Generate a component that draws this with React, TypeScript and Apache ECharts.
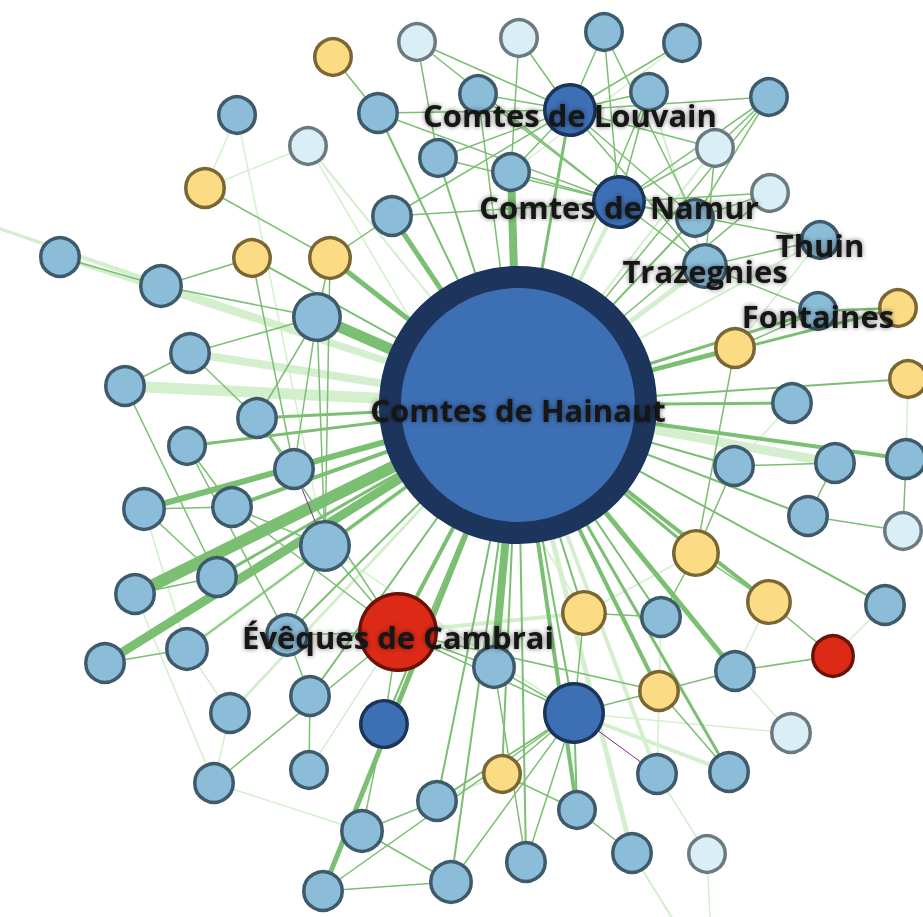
import React, { useEffect, useRef } from "react";
import * as echarts from "echarts";

// node positions in the chart's own coordinate space (x: 0-923, y: 0-917)
const nodeX = [518, 333, 417, 519, 604, 682, 237, 378, 478, 570, 649, 769, 308, 438, 511, 715, 205, 392, 619, 695, 770, 252, 330, 705, 820, 60, 161, 317, 818, 898, 190, 735, 125, 908, 257, 792, 187, 294, 835, 906, 734, 144, 232, 808, 325, 903, 696, 135, 217, 584, 661, 769, 885, 398, 287, 105, 187, 833, 494, 735, 310, 659, 230, 384, 574, 791, 502, 214, 309, 657, 729, 437, 577, 362, 632, 707, 526, 451, 323, -40, 712, 698];
const nodeY = [405, 57, 42, 38, 32, 43, 115, 113, 94, 110, 92, 97, 146, 158, 172, 148, 188, 216, 202, 218, 193, 258, 258, 266, 240, 257, 286, 317, 311, 308, 353, 348, 386, 379, 418, 403, 446, 469, 463, 459, 466, 509, 507, 516, 546, 531, 553, 594, 577, 613, 617, 602, 605, 632, 635, 663, 649, 656, 667, 671, 696, 691, 713, 724, 713, 733, 774, 783, 770, 774, 772, 801, 810, 831, 853, 854, 862, 882, 891, 215, 960, 960];
// outer radius of each node (node weight)
const nodeR = [139, 20, 20, 20, 20, 20, 20, 21, 20, 27, 20, 20, 20, 20, 20, 20, 21, 21, 27, 20, 20, 20, 22, 23, 20, 21, 22, 25, 20, 20, 21, 21, 21, 20, 21, 21, 20, 21, 21, 21, 21, 22, 21, 21, 26, 20, 24, 21, 21, 23, 21, 23, 21, 40, 22, 21, 22, 22, 22, 21, 21, 21, 21, 25, 31, 21, 20, 21, 20, 21, 21, 21, 20, 22, 21, 20, 21, 22, 21, 0, 0, 0];
// kind: H hub, b light blue, y yellow, p pale, d dark blue, r red, x hidden
const nodeKind = (
  "Hyppbbbbbd" + "bbpbbpybdb" + "pyybbbbbby" + "bybybbbbbb" + "bbbbbpybby" +
  "bybrbbbrbb" + "bybddpybbb" + "bbbbbpbbb" + "xxx"
).split("");
const nodeLabels: Record<number, string> = {
  0: "Comtes de Hainaut",
  9: "Comtes de Louvain",
  18: "Comtes de Namur",
  23: "Trazegnies",
  24: "Thuin",
  28: "Fontaines",
  53: "Évêques de Cambrai",
};

// links: [source, target, weight, kind]  g = green, l = light green, v = violet
const links: [number, number, number, string][] = [
  [0, 7, 2, "g"], [0, 8, 1.5, "g"], [0, 9, 3, "g"], [0, 10, 1.5, "g"], [0, 13, 2, "g"], [0, 14, 8, "g"],
  [0, 17, 5, "g"], [0, 18, 4, "l"], [0, 19, 2, "g"], [0, 20, 1.5, "g"], [0, 21, 2, "g"], [0, 22, 5, "g"],
  [0, 23, 5, "l"], [0, 24, 2, "l"], [0, 25, 4, "l"], [0, 26, 7, "l"], [0, 27, 11, "g"], [0, 28, 3, "g"],
  [0, 29, 3, "g"], [0, 30, 8, "l"], [0, 31, 4, "g"], [0, 32, 11, "l"], [0, 33, 2, "g"], [0, 34, 3, "g"],
  [0, 35, 3, "g"], [0, 36, 3, "g"], [0, 37, 2, "g"], [0, 38, 9, "l"], [0, 39, 4, "g"], [0, 40, 2, "g"],
  [0, 41, 6, "g"], [0, 42, 4, "g"], [0, 43, 2, "g"], [0, 44, 3, "g"], [0, 46, 3, "g"], [0, 47, 12, "g"],
  [0, 48, 3, "g"], [0, 49, 2, "g"], [0, 50, 2, "g"], [0, 51, 4, "g"], [0, 53, 4, "g"], [0, 54, 2, "g"],
  [0, 55, 9, "g"], [0, 56, 4, "l"], [0, 58, 8, "g"], [0, 59, 5, "g"], [0, 60, 2, "g"], [0, 61, 4, "g"],
  [0, 62, 3, "l"], [0, 63, 2, "g"], [0, 64, 2, "g"], [0, 66, 2, "g"], [0, 69, 4, "l"], [0, 70, 3, "g"],
  [0, 71, 2, "g"], [0, 72, 4, "g"], [0, 74, 5, "l"], [0, 76, 2, "g"], [0, 77, 2, "g"], [0, 78, 5, "g"],
  [0, 11, 1.5, "g"], [0, 12, 2, "l"], [0, 15, 2, "l"], [0, 79, 3, "l"], [0, 52, 2, "g"], [0, 56, 1.5, "g"],
  [1, 7, 1.5, "g"], [2, 13, 1.5, "g"], [2, 9, 1.5, "g"], [2, 18, 1.5, "g"], [3, 9, 1.5, "g"], [3, 14, 1.5, "g"],
  [4, 9, 1.5, "g"], [4, 18, 1.5, "g"], [4, 19, 1.5, "g"], [5, 9, 1.5, "g"], [5, 14, 1.5, "l"], [6, 16, 1.5, "l"],
  [6, 44, 1.5, "l"], [12, 16, 1.5, "l"], [12, 49, 1.5, "l"], [7, 18, 1.5, "g"], [7, 9, 1.5, "g"], [8, 9, 1.5, "g"],
  [8, 18, 1.5, "g"], [9, 10, 1.5, "g"], [9, 11, 1.5, "g"], [9, 13, 1.5, "g"], [9, 14, 1.5, "g"], [9, 15, 1.5, "g"],
  [9, 17, 1.5, "g"], [9, 19, 1.5, "g"], [9, 23, 1.5, "g"], [10, 18, 1.5, "g"], [10, 23, 2, "l"], [11, 15, 1.5, "g"],
  [11, 19, 1.5, "g"], [11, 18, 1.5, "g"], [13, 18, 1.5, "g"], [14, 18, 1.5, "g"], [15, 18, 1.5, "g"], [15, 23, 1.5, "g"],
  [17, 18, 1.5, "g"], [17, 22, 1.5, "g"], [18, 19, 1.5, "g"], [18, 20, 1.5, "g"], [18, 23, 1.5, "g"], [18, 24, 1.5, "g"],
  [20, 19, 1.5, "g"], [23, 24, 1.5, "g"], [23, 28, 1.5, "g"], [24, 31, 1.5, "l"], [16, 22, 1.5, "g"], [21, 26, 1.5, "g"],
  [21, 37, 1.5, "g"], [22, 27, 1.5, "g"], [22, 44, 1.5, "g"], [25, 26, 1.5, "g"], [79, 26, 2, "l"], [26, 27, 1.5, "g"],
  [27, 30, 1.5, "g"], [27, 34, 1.5, "g"], [27, 37, 1.5, "g"], [27, 44, 1.5, "g"], [30, 32, 1.5, "g"], [30, 34, 1.5, "g"],
  [32, 48, 1.5, "g"], [34, 37, 1.5, "g"], [36, 42, 1.5, "g"], [36, 54, 1.5, "g"], [37, 44, 1, "v"], [41, 42, 1.5, "g"],
  [41, 56, 1.5, "l"], [41, 48, 1.5, "g"], [42, 44, 1.5, "g"], [42, 53, 1.5, "g"], [47, 48, 1.5, "g"], [47, 67, 1.5, "l"],
  [55, 56, 1.5, "g"], [56, 62, 1.5, "l"], [54, 60, 1.5, "g"], [54, 53, 1.5, "g"], [60, 68, 1.5, "g"], [67, 53, 1.5, "g"],
  [62, 67, 1.5, "l"], [67, 73, 1.5, "l"], [73, 71, 1.5, "g"], [73, 77, 1.5, "g"], [78, 77, 1.5, "g"], [63, 73, 1.5, "g"],
  [63, 53, 1.5, "g"], [68, 53, 1.5, "l"], [53, 49, 4, "l"], [53, 58, 1.5, "g"], [53, 64, 1.5, "g"], [53, 61, 1.5, "g"],
  [64, 49, 1.5, "g"], [64, 61, 1.5, "g"], [64, 69, 1, "v"], [64, 70, 4, "l"], [64, 72, 2, "g"], [64, 71, 2, "g"],
  [64, 76, 1.5, "g"], [64, 66, 1.5, "g"], [64, 77, 1.5, "g"], [64, 58, 1.5, "g"], [64, 78, 1.5, "g"], [64, 44, 1.5, "l"],
  [64, 65, 1.5, "l"], [61, 59, 1.5, "g"], [59, 57, 1.5, "g"], [57, 51, 1.5, "g"], [51, 46, 1.5, "g"], [52, 57, 1.5, "l"],
  [59, 65, 1.5, "l"], [59, 51, 1.5, "l"], [50, 46, 1.5, "g"], [50, 69, 1.5, "l"], [69, 75, 1.5, "l"], [61, 70, 1.5, "g"],
  [72, 74, 1.5, "g"], [74, 81, 2, "l"], [75, 80, 1.5, "l"], [58, 76, 1.5, "g"], [66, 72, 1.5, "g"], [71, 66, 1.5, "l"],
  [43, 45, 1.5, "g"], [39, 45, 1.5, "g"], [33, 39, 1.5, "l"], [28, 29, 2.5, "g"], [31, 28, 1.5, "g"], [31, 46, 1.5, "g"],
  [40, 46, 1.5, "g"], [35, 40, 1.5, "l"], [38, 43, 1.5, "g"], [40, 38, 1.5, "g"], [50, 49, 1.5, "g"], [46, 49, 1.5, "l"],
  [44, 53, 1.5, "g"], [44, 54, 1.5, "g"], [34, 53, 1.5, "g"],
];

const KIND_STYLE: Record<string, { fill: string; border: string; bw: number }> = {
  H: { fill: "#3d6fb5", border: "#1d355c", bw: 22 },
  b: { fill: "#8bbcd8", border: "#3e5a6b", bw: 3.5 },
  y: { fill: "#fbdc85", border: "#7a6633", bw: 3.5 },
  p: { fill: "#daeff5", border: "#6b7a80", bw: 3.5 },
  d: { fill: "#3d6fb5", border: "#1c3458", bw: 3.5 },
  r: { fill: "#dc2a16", border: "#6b1209", bw: 3.5 },
  x: { fill: "rgba(0,0,0,0)", border: "rgba(0,0,0,0)", bw: 0 },
};
const LINK_COLOR: Record<string, string> = { g: "#7bbf72", l: "#d3efcd", v: "#7c2b8f" };

export default function App() {
  const ref = useRef<HTMLDivElement>(null);
  useEffect(() => {
    if (!ref.current) return;
    const chart = echarts.init(ref.current, null, { renderer: "svg" });
    const data = nodeX.map((x, i) => {
      const s = KIND_STYLE[nodeKind[i]];
      const label = nodeLabels[i];
      return {
        name: "n" + i,
        value: [x, nodeY[i]],
        symbolSize: Math.max(0, 2 * nodeR[i] - s.bw),
        itemStyle: { color: s.fill, borderColor: s.border, borderWidth: s.bw },
        label: label
          ? {
              show: true,
              formatter: label,
              position: "inside",
              offset: [0, 5],
              fontFamily: "Open Sans",
              fontWeight: "bold",
              fontSize: 31,
              color: "#141414",
              textShadowColor: "rgba(0,0,0,0.55)",
              textShadowBlur: 5,
            }
          : { show: false },
      };
    });
    const order = (k: string) => (k === "l" ? 0 : 1);
    const sorted = [...links].sort((a, b) => order(a[3]) - order(b[3]));
    const edgeData = sorted.map(([s, t, w, k]) => ({
      source: "n" + s,
      target: "n" + t,
      lineStyle: { width: w, color: LINK_COLOR[k], opacity: 1, curveness: 0 },
    }));
    chart.setOption({
      animation: false,
      grid: { left: 0, right: 0, top: 0, bottom: 0 },
      xAxis: { type: "value", min: 0, max: 923, show: false },
      yAxis: { type: "value", min: 0, max: 917, inverse: true, show: false },
      series: [
        {
          type: "graph",
          coordinateSystem: "cartesian2d",
          layout: "none",
          symbol: "circle",
          data,
          links: edgeData,
          emphasis: { disabled: true },
          label: { show: false },
          lineStyle: { opacity: 1 },
        },
      ],
    });
    return () => chart.dispose();
  }, []);
  return (
    <div
      ref={ref}
      style={{ position: "fixed", left: 0, top: 0, width: 923, height: 917, background: "#fff" }}
    />
  );
}
